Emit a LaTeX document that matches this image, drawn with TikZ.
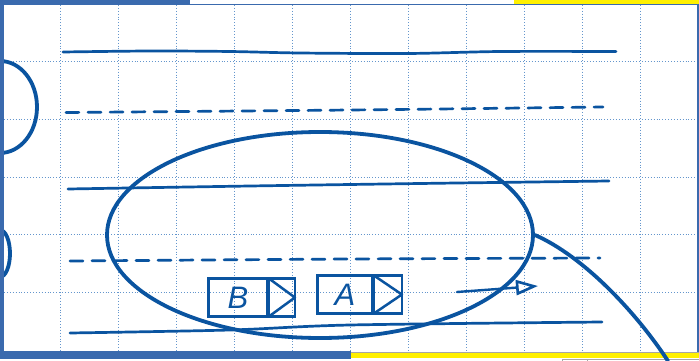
\documentclass[tikz,border=0pt]{standalone}
\usepackage{fontspec}
\newfontfamily\handfont{Liberation Sans}
\usetikzlibrary{shapes.geometric,arrows.meta}
\definecolor{ink}{RGB}{10,84,160}
\definecolor{barblue}{RGB}{58,106,174}
\definecolor{gridblue}{RGB}{100,150,205}
\definecolor{hiyellow}{RGB}{255,240,0}
\tikzset{
  gridline/.style={gridblue, dotted, line width=0.9pt},
  penline/.style={ink, line width=2.7pt, line cap=round, line join=round},
  pendash/.style={penline, dash pattern=on 13pt off 9pt},
  thickpen/.style={ink, line width=3.8pt, line cap=round},
  cell/.style={draw=ink, line width=2.8pt, rectangle, minimum height=38pt, inner sep=0pt,
    font=\handfont\itshape\fontsize{31}{31}\selectfont, text=ink},
  tri/.style={ink, line width=2.5pt, line join=round, line cap=round},
}
\begin{document}
\begin{tikzpicture}[x=1pt,y=-1pt]
\useasboundingbox (0,0) rectangle (699,361);
\fill[white] (0,0) rectangle (699,361);
% grid
\foreach \gx in {0,...,10} \draw[gridline] ({60.7+58*\gx},5) -- ({60.7+58*\gx},351);
\foreach \gy in {0,...,4} \draw[gridline] (4,{61.6+57.7*\gy}) -- (697,{61.6+57.7*\gy});
% ruled lines
\draw[penline] plot[smooth] coordinates {(63,52) (150,51) (230,51.5) (300,53) (408,53.5) (500,51.5) (616,51.5)};
\draw[pendash] plot[smooth] coordinates {(66,112.5) (350,110) (603,107)};
\draw[penline] plot[smooth] coordinates {(68,189) (250,186) (420,183.5) (609,181)};
\draw[pendash] plot[smooth] coordinates {(70,261) (350,259) (600,258)};
\draw[penline] plot[smooth] coordinates {(70,333) (230,330) (350,325) (602,322)};
% left edge arcs
\draw[thickpen] (0,61) arc[start angle=-90, end angle=90, x radius=37, y radius=46];
\draw[thickpen] (0,230) arc[start angle=-90, end angle=90, x radius=10, y radius=23.5];
% lens
\node[ellipse, draw=ink, line width=3.8pt, minimum width=426pt, minimum height=206pt, inner sep=0pt] (lens) at (320,235) {};
% boxes
\node[cell, minimum width=59pt] (bL) at (238,297.5) {B};
\node[cell, minimum width=26pt, anchor=west, outer sep=0pt] (bR) at (bL.east) {};
\draw[tri] (bR.north west) -- (bR.east) -- (bR.south west);
\node[cell, minimum width=55pt] (aL) at (345,294.5) {A};
\node[cell, minimum width=28pt, anchor=west, outer sep=0pt] (aR) at (aL.east) {};
\draw[tri] (aR.north west) -- (aR.east) -- (aR.south west);
% arrow
\coordinate (arrS) at (457,292);
\coordinate (arrE) at (538,286);
\draw[penline, line width=2.4pt, -{Triangle[open, length=22pt, width=15pt, line width=2.6pt]}] (arrS) -- (arrE);
% frame bars
\fill[barblue] (0,0) rectangle (190,4);
\fill[hiyellow] (514,0) rectangle (699,4);
\draw[barblue, line width=1.2pt] (0,4.6) -- (699,4.6);
\fill[barblue] (0,0) rectangle (3.5,351);
\draw[barblue, line width=1.5pt] (697.8,4) -- (697.8,352);
\fill[barblue] (0,351) rectangle (351,358.5);
\fill[hiyellow] (351,352.5) rectangle (699,357.5);
\draw[gray!70, line width=0.8pt] (351,352) -- (699,352);
\draw[gray!70, line width=0.6pt] (562,361) -- (562,359.3) -- (699,359.3);
\draw[gray!70, line width=0.6pt] (587,359.3) -- (587,361);
% tail of the lens
\coordinate (tailEnd) at (668,361);
\draw[thickpen] (lens.east) .. controls (583,256) and (636,312) .. (tailEnd);
\end{tikzpicture}
\end{document}
